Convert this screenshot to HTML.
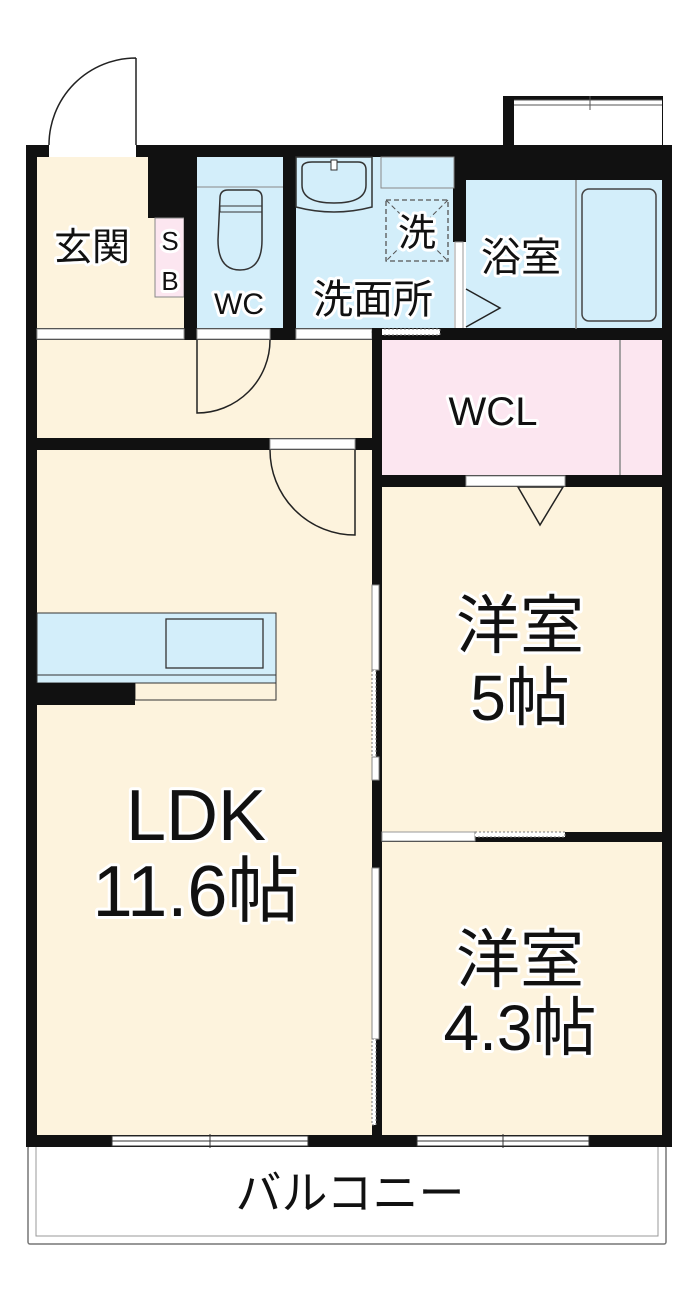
<!DOCTYPE html>
<html><head><meta charset="utf-8"><style>
html,body{margin:0;padding:0;background:#fff}
svg{display:block}
text{font-family:"Liberation Sans","Noto Sans CJK JP",sans-serif;fill:#111;text-anchor:middle}
</style></head><body>
<svg width="700" height="1299" viewBox="0 0 700 1299" xmlns="http://www.w3.org/2000/svg">
<rect x="28" y="1146" width="638" height="98" fill="#fff" stroke="#777" stroke-width="1.5" rx="2"/>
<rect x="36" y="1146" width="622" height="90" fill="none" stroke="#999" stroke-width="1"/>
<rect x="503" y="96" width="160" height="52" fill="#111"/>
<rect x="514" y="100" width="148" height="48" fill="#fff"/>
<line x1="514" y1="100" x2="662" y2="100" stroke="#555"/>
<line x1="514" y1="105" x2="662" y2="105" stroke="#555"/>
<line x1="590" y1="96" x2="590" y2="110" stroke="#555"/>
<path d="M136,58 L136,146 M136,58 A87,87 0 0 0 49,146" fill="none" stroke="#222" stroke-width="1.5"/>
<rect x="37" y="157" width="148" height="172" fill="#fdf3dd"/>
<rect x="197" y="157" width="86" height="172" fill="#d3eefa"/>
<rect x="296" y="157" width="158" height="172" fill="#d3eefa"/>
<rect x="466" y="180" width="196" height="149" fill="#d3eefa"/>
<rect x="37" y="340" width="335" height="98" fill="#fdf3dd"/>
<rect x="382" y="340" width="280" height="136" fill="#fce6f0"/>
<rect x="37" y="450" width="335" height="686" fill="#fdf3dd"/>
<rect x="382" y="487" width="280" height="346" fill="#fdf3dd"/>
<rect x="382" y="842" width="280" height="294" fill="#fdf3dd"/>
<rect x="26" y="145" width="646" height="12" fill="#111"/>
<rect x="49" y="145" width="87" height="12" fill="#fff"/>
<rect x="454" y="145" width="218" height="35" fill="#111"/>
<rect x="26" y="145" width="11" height="1002" fill="#111"/>
<rect x="662" y="145" width="10" height="1002" fill="#111"/>
<rect x="26" y="1135" width="646" height="12" fill="#111"/>
<rect x="112" y="1136" width="196" height="10" fill="#fff" stroke="#333"/>
<line x1="112" y1="1141" x2="308" y2="1141" stroke="#333"/>
<line x1="210" y1="1134" x2="210" y2="1148" stroke="#333"/>
<rect x="417" y="1136" width="172" height="10" fill="#fff" stroke="#333"/>
<line x1="417" y1="1141" x2="589" y2="1141" stroke="#333"/>
<line x1="503" y1="1134" x2="503" y2="1148" stroke="#333"/>
<rect x="148" y="157" width="37" height="61" fill="#111"/>
<rect x="155" y="218" width="29" height="79" fill="#fce6f0" stroke="#888" stroke-width="1"/>
<rect x="184" y="157" width="13" height="183" fill="#111"/>
<rect x="283" y="157" width="13" height="183" fill="#111"/>
<rect x="453" y="157" width="13" height="85" fill="#111"/>
<rect x="455" y="242" width="8" height="87" fill="#fff" stroke="#999" stroke-width="1"/>
<rect x="26" y="328" width="646" height="12" fill="#111"/>
<rect x="37" y="329" width="147" height="10" fill="#fff" stroke="#999" stroke-width="1"/>
<rect x="197" y="329" width="73" height="10" fill="#fff" stroke="#999" stroke-width="1"/>
<rect x="296" y="329" width="76" height="10" fill="#fff" stroke="#999" stroke-width="1"/>
<rect x="372" y="329" width="68" height="6" fill="#fff" stroke="#777" stroke-dasharray="2,2" stroke-width="1"/>
<rect x="26" y="438" width="356" height="12" fill="#111"/>
<rect x="270" y="439" width="85" height="10" fill="#fff" stroke="#999" stroke-width="1"/>
<rect x="372" y="328" width="10" height="819" fill="#111"/>
<rect x="372" y="585" width="7" height="85" fill="#fff" stroke="#888" stroke-width="1"/>
<rect x="372" y="670" width="4" height="87" fill="#fff" stroke="#777" stroke-dasharray="2,2" stroke-width="1"/>
<rect x="372" y="757" width="7" height="23" fill="#fff" stroke="#888" stroke-width="1"/>
<rect x="372" y="868" width="7" height="171" fill="#fff" stroke="#888" stroke-width="1"/>
<rect x="372" y="1039" width="4" height="86" fill="#fff" stroke="#777" stroke-dasharray="2,2" stroke-width="1"/>
<rect x="382" y="475" width="290" height="12" fill="#111"/>
<rect x="466" y="476" width="99" height="10" fill="#fff" stroke="#999" stroke-width="1"/>
<path d="M518,487 L563,487 L540,525 Z" fill="#fdf3dd" stroke="#222" stroke-width="1.5"/>
<rect x="382" y="832" width="290" height="10" fill="#111"/>
<rect x="382" y="832" width="93" height="9" fill="#fff" stroke="#999" stroke-width="1"/>
<rect x="475" y="832" width="90" height="5" fill="#fff" stroke="#777" stroke-dasharray="2,2" stroke-width="1"/>
<line x1="620" y1="340" x2="620" y2="475" stroke="#888" stroke-width="1.5"/>
<path d="M197,340 L197,413 A73,73 0 0 0 270,340" fill="none" stroke="#222" stroke-width="1.5"/>
<path d="M355,450 L355,535 A85,85 0 0 1 270,450" fill="none" stroke="#222" stroke-width="1.5"/>
<line x1="197" y1="187" x2="283" y2="187" stroke="#888"/>
<path d="M220,198 Q220,190 228,190 L254,190 Q262,190 262,198 L262,240 Q262,270 240,270 Q218,270 218,240 Z" fill="#d3eefa" stroke="#333" stroke-width="1.5"/>
<rect x="220" y="206" width="42" height="6" fill="none" stroke="#333" stroke-width="1"/>
<path d="M296,157 L372,157 L372,207 Q334,217 296,207 Z" fill="#d3eefa" stroke="#333" stroke-width="1.5"/>
<path d="M302,168 Q302,162 312,162 L358,162 Q366,162 366,170 L366,185 Q366,203 334,203 Q302,203 302,185 Z" fill="none" stroke="#333" stroke-width="1.5"/>
<rect x="331" y="160" width="6" height="10" fill="#fff" stroke="#333"/>
<rect x="381" y="157" width="73" height="31" fill="#d3eefa" stroke="#888" stroke-width="1"/>
<rect x="386" y="200" width="62" height="61" fill="none" stroke="#555" stroke-dasharray="5,3" stroke-width="1.3"/>
<line x1="386" y1="200" x2="448" y2="261" stroke="#555" stroke-dasharray="5,3"/>
<line x1="448" y1="200" x2="386" y2="261" stroke="#555" stroke-dasharray="5,3"/>
<line x1="576" y1="180" x2="576" y2="329" stroke="#888" stroke-width="1.5"/>
<rect x="582" y="189" width="74" height="132" rx="7" fill="none" stroke="#444" stroke-width="1.5"/>
<path d="M466,289 L500,308 L466,327" fill="none" stroke="#222" stroke-width="1.5"/>
<rect x="37" y="613" width="239" height="63" fill="#d3eefa" stroke="#333" stroke-width="1"/>
<rect x="37" y="675" width="239" height="8" fill="#d3eefa" stroke="#333" stroke-width="1"/>
<rect x="166" y="619" width="97" height="49" fill="#d3eefa" stroke="#333" stroke-width="1.3"/>
<rect x="135" y="683" width="141" height="17" fill="#fdf3dd" stroke="#333" stroke-width="1"/>
<rect x="26" y="683" width="109" height="22" fill="#111"/>
<g stroke="#fff" stroke-width="6" paint-order="stroke" stroke-linejoin="round">
<text x="170" y="250" font-size="26">S</text>
<text x="170" y="290" font-size="26">B</text>
<text x="92" y="260" font-size="38">玄関</text>
<text x="239" y="314" font-size="30">WC</text>
<text x="373" y="313" font-size="40">洗面所</text>
<text x="417" y="246" font-size="38">洗</text>
<text x="521" y="271" font-size="40">浴室</text>
<text x="493" y="425" font-size="40">WCL</text>
<text x="520" y="648" font-size="64">洋室</text>
<text x="520" y="720" font-size="64">5帖</text>
<text x="196" y="840" font-size="72">LDK</text>
<text x="196" y="916" font-size="72">11.6帖</text>
<text x="520" y="982" font-size="64">洋室</text>
<text x="520" y="1050" font-size="64">4.3帖</text>
<text x="350" y="1209" font-size="46">バルコニー</text>
</g>
</svg>
</body></html>
